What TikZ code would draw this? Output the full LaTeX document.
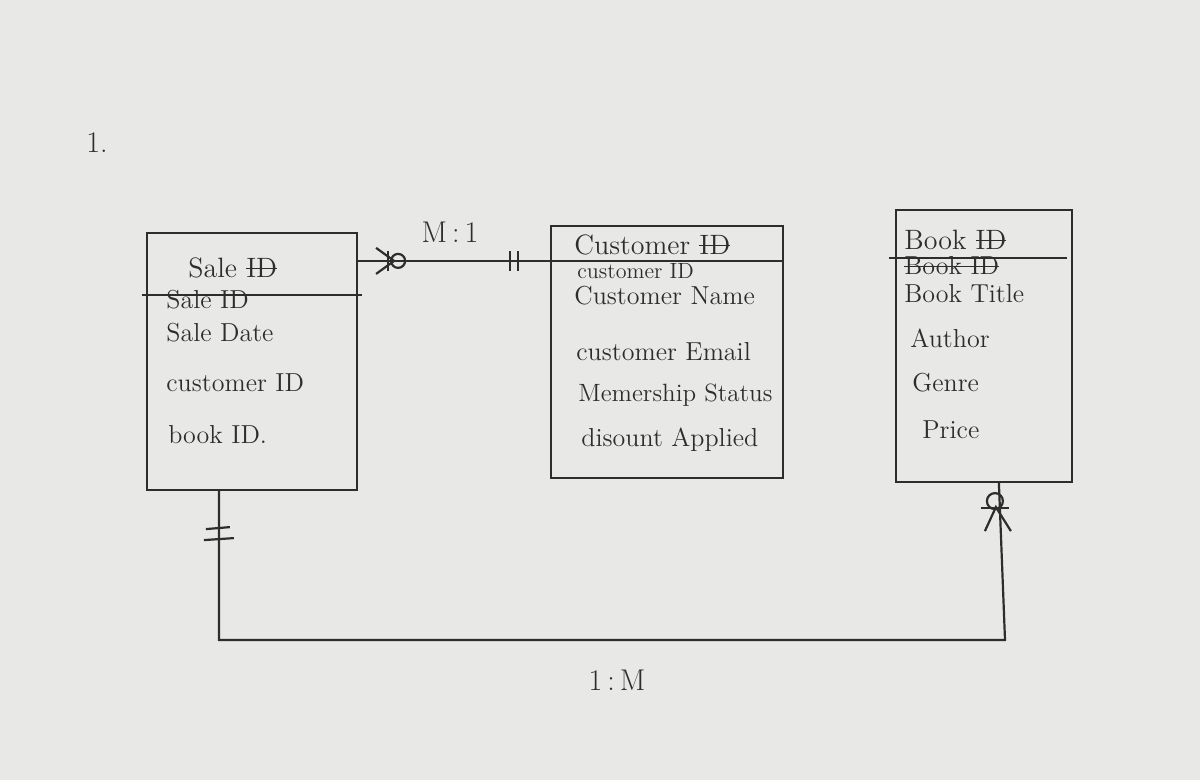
\documentclass[tikz,border=0pt]{standalone}
\usetikzlibrary{calc}
\definecolor{paper}{RGB}{232,232,230}
\definecolor{ink}{RGB}{45,45,45}
\newsavebox\strkbox
\newcommand{\strk}[1]{\sbox\strkbox{#1}\rlap{\rule[0.3em]{\wd\strkbox}{0.6pt}}\usebox\strkbox}
\tikzset{
  ebox/.style={draw=ink, line width=1.1pt, rectangle, inner sep=0pt},
  sep/.style={draw=ink, line width=1.1pt},
  conn/.style={draw=ink, line width=1.1pt},
  rmark/.style={draw=ink, line width=1.1pt},
  attr/.style={anchor=west, inner sep=0pt, text=ink, font=\fontsize{13}{15}\selectfont},
  small/.style={anchor=west, inner sep=0pt, text=ink, font=\fontsize{11}{13}\selectfont},
  head/.style={anchor=west, inner sep=0pt, text=ink, font=\fontsize{14}{16}\selectfont},
  lbl/.style={inner sep=0pt, text=ink, font=\fontsize{15}{17}\selectfont}
}
\begin{document}
\begin{tikzpicture}[x=0.5pt,y=-0.5pt]
\useasboundingbox (0,0) rectangle (1200,780);
\fill[paper] (0,0) rectangle (1200,780);

\node[lbl] (num) at (97,143) {1.};

% entities
\node[ebox, minimum width=105pt, minimum height=128.5pt] (sale) at (252,361.5) {};
\node[ebox, minimum width=116pt, minimum height=126pt] (cust) at (667,352) {};
\node[ebox, minimum width=88pt, minimum height=136pt] (book) at (984,346) {};

% separators
\draw[sep] ($(sale.north west)+(-4,63)$) -- ($(sale.north east)+(4,63)$);
\draw[sep] ($(cust.north west)+(0,36)$) -- ($(cust.north east)+(0,36)$);
\draw[sep] ($(book.north west)+(-6,49)$) -- ($(book.north east)+(-6,49)$);

% Sale texts
\node[head] (s0) at (188,268) {Sale \strk{ID}};
\node[attr] (s1) at (166,300) {Sale ID};
\node[attr] (s2) at (166,333) {Sale Date};
\node[attr] (s3) at (166,383) {customer ID};
\node[attr] (s4) at (168,435) {book ID.};

% Customer texts
\node[head] (c0) at (574,245) {Customer \strk{ID}};
\node[small] (c1) at (577,271) {customer ID};
\node[attr] (c2) at (574,296) {Customer Name};
\node[attr] (c3) at (576,352) {customer Email};
\node[attr, font=\fontsize{12.5}{15}\selectfont] (c4) at (578,395) {Memership Status};
\node[attr] (c5) at (581,440) {disount Applied};

% Book texts
\node[head] (b0) at (904,240) {Book \strk{ID}};
\node[attr] (b1) at (904,266) {\strk{Book ID}};
\node[attr] (b2) at (904,294) {Book Title};
\node[attr] (b3) at (910,338) {Author};
\node[attr] (b4) at (912,383) {Genre};
\node[attr] (b5) at (922,430) {Price};

% Sale -- Customer  (M:1)
\path (sale.north east) ++(0,29) coordinate (sa);
\path (cust.north west) ++(0,36) coordinate (ca);
\draw[conn] (sa) -- (ca);
% zero-or-many at Sale
\draw[rmark] ($(sa)+(18,-13)$) -- ($(sa)+(36,0)$) -- ($(sa)+(18,13)$);
\draw[rmark] ($(sa)+(30,-10)$) -- ($(sa)+(30,10)$);
\draw[rmark] ($(sa)+(40,0)$) circle (3.5pt);
% one-and-only-one at Customer
\draw[rmark] ($(ca)+(-40,-10)$) -- ($(ca)+(-40,10)$);
\draw[rmark] ($(ca)+(-32,-10)$) -- ($(ca)+(-32,10)$);
\node[lbl] (m1) at (450,232) {M\,:\,1};

% Sale -- Book  (1:M)
\coordinate (sb) at ($(sale.south west)+(73,0)$);
\coordinate (bb) at ($(book.south west)+(104,0)$);
\coordinate (corner) at (1005,640);
\draw[conn] (sb) |- (corner) -- (bb);
% one-and-only-one at Sale
\draw[rmark] ($(sb)+(-13,38)$) -- ($(sb)+(11,36)$);
\draw[rmark] ($(sb)+(-15,49)$) -- ($(sb)+(15,47)$);
% zero-or-many at Book
\draw[rmark] ($(bb)+(-4,18)$) circle (4pt);
\draw[rmark] ($(bb)+(-18,25)$) -- ($(bb)+(10,25)$);
\draw[rmark] ($(bb)+(-14,48)$) -- ($(bb)+(-3,24)$) -- ($(bb)+(12,48)$);
\node[lbl] (m2) at (617,680) {1\,:\,M};
\end{tikzpicture}
\end{document}
